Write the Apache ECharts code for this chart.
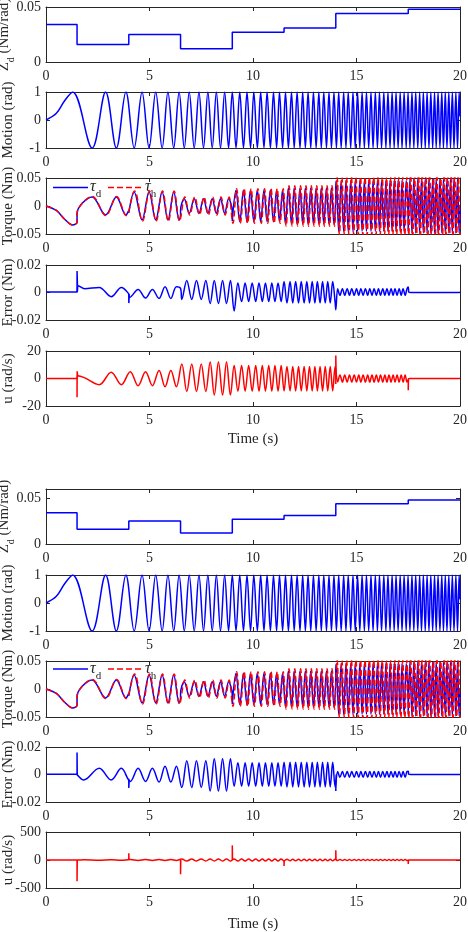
<!DOCTYPE html>
<html><head><meta charset="utf-8">
<script src="https://cdn.jsdelivr.net/npm/echarts@6/dist/echarts.min.js"></script>
<style>html,body{margin:0;padding:0;background:#fff}#c{width:468px;height:932px}</style>
</head><body><div id="c"></div><script>
// ---------- data ----------
const timeTicks = [0, 5, 10, 15, 20];
// quarter-period times of the chirp motion (odd: extrema, even: zero crossings)
const quarterT = [1.29,1.82,2.23,2.57,2.88,3.15,3.40,3.64,3.86,4.07,
 4.26,4.45,4.64,4.81,4.98,5.14,5.30,5.46,5.61,5.75,
 5.89,6.03,6.17,6.30,6.43,6.56,6.68,6.80,6.92,7.04,
 7.16,7.27,7.39,7.50,7.61,7.72,7.82,7.93,8.03,8.13,
 8.23,8.33,8.43,8.53,8.63,8.72,8.82,8.91,9.00,9.09,
 9.18,9.27,9.36,9.45,9.54,9.62,9.71,9.79,9.88,9.96,
 10.04,10.13,10.21,10.29,10.37,10.45,10.53,10.60,10.68,10.76,
 10.84,10.91,10.99,11.06,11.14,11.21,11.28,11.36,11.43,11.50,
 11.57,11.64,11.71,11.79,11.86,11.92,11.99,12.06,12.13,12.20,
 12.27,12.33,12.40,12.47,12.53,12.60,12.66,12.73,12.79,12.86,
 12.92,12.99,13.05,13.11,13.18,13.24,13.30,13.36,13.42,13.49,
 13.55,13.61,13.67,13.73,13.79,13.85,13.91,13.97,14.03,14.09,
 14.14,14.20,14.26,14.32,14.38,14.43,14.49,14.55,14.60,14.66,
 14.72,14.77,14.83,14.89,14.94,15.00,15.05,15.11,15.16,15.21,
 15.27,15.32,15.38,15.43,15.48,15.54,15.59,15.64,15.70,15.75,
 15.80,15.85,15.91,15.96,16.01,16.06,16.11,16.16,16.21,16.27,
 16.32,16.37,16.42,16.47,16.52,16.57,16.62,16.67,16.72,16.77,
 16.82,16.86,16.91,16.96,17.01,17.06,17.11,17.16,17.20,17.25,
 17.30,17.35,17.40,17.44,17.49,17.54,17.58,17.63,17.68,17.72,
 17.77,17.82,17.86,17.91,17.96,18.00,18.05,18.09,18.14,18.19,
 18.23,18.28,18.32,18.37,18.41,18.46,18.50,18.55,18.59,18.63,
 18.68,18.72,18.77,18.81,18.85,18.90,18.94,18.99,19.03,19.07,
 19.12,19.16,19.20,19.25,19.29,19.33,19.37,19.42,19.46,19.50,
 19.54,19.59,19.63,19.67,19.71,19.75,19.80,19.84,19.88,19.92,
 19.96];

// Zd stiffness steps
const zdStepT = [0, 1.5, 4, 6.5, 9, 11.5, 14, 17.5, 20];
const zdVal = [0.034, 0.016, 0.025, 0.012, 0.027, 0.031, 0.044, 0.048];

// motion
const motionKnots = [0, 20];
const motionPos = [1];
const motionNeg = [-1];
const motionAnchorT = [0, 0.5, 0.9, 20];
const motionAnchorV = [0, 0.24, 0.69, 0.13];

// torque (per Zd segment)
const tauDAmp = [0.034, 0.016, 0.025, 0.013, 0.028, 0.032, 0.045, 0.048];
const tauHAmp = [0.034, 0.017, 0.027, 0.016, 0.031, 0.036, 0.052, 0.058];
const tauHLag = [0, 0.01, 0.02, 0.025, 0.03, 0.03, 0.035, 0.035];
const tauDAnchorT = [0, 0.5, 0.9, 1.5, 1.5, 4, 4, 6.5, 6.5, 9, 9, 14, 14, 17.5, 17.5, 20];
const tauDAnchorV = [0, -0.008, -0.0236, -0.029, -0.0135, -0.0078, -0.0122, -0.0161, -0.0077, -0.012, -0.027, 0.0233, 0.033, -0.0415, -0.0453, -0.006];
const tauDSkip = [49, 185];
const tauHAnchorT = [0, 0.5, 0.9, 1.5, 1.5];
const tauHAnchorV = [0, -0.008, -0.0236, -0.029, -0.014];
const legendNames = ['τd', 'τh'];

// error, first figure
const err1Knots = [0, 1.5, 4, 5.25, 6.5, 7.75, 9, 11.5, 14, 17.5, 20];
const err1Pos = [0.0003, 0.0037, 0.0022, 0.0042, 0.0088, 0.0088, 0.0070, 0.0080, 0.0028, 0];
const err1Neg = [0.0003, -0.0030, -0.0040, -0.0043, -0.0050, -0.0080, -0.0066, -0.0076, -0.0020, 0];
const err1AnchorT = [0, 1.5, 1.55, 1.85, 4.0, 4.04, 6.5, 9.09, 14.0, 17.5, 17.52, 20];
const err1AnchorV = [0.0003, 0.0003, 0.0050, 0.0028, -0.0010, -0.0035, 0.0030, -0.0135, -0.0125, 0.0040, 0.0002, 0.0002];
const err1Skip = [2, 10, 50];
const err1Spikes = [[[1.5, 0.0003], [1.5, 0.0157], [1.52, 0.0055]], [[4.0, -0.001], [4.0, -0.0077], [4.02, -0.003]]];

// control input, first figure
const u1Knots = [0, 1.5, 4, 5.25, 6.5, 7.75, 9, 11.5, 14, 17.5, 20];
const u1Pos = [0, 4.6, 5.0, 5.8, 10.5, 12.0, 9.5, 8.8, 2.6, 0];
const u1Neg = [0, -4.5, -5.2, -6.0, -9.5, -12.0, -9.2, -9.0, -2.6, 0];
const u1AnchorT = [0, 1.5, 1.53, 1.85, 20];
const u1AnchorV = [0, 0, 2.0, 0.6, 0];
const u1Skip = [2];
const u1Spikes = [[[1.5, 0], [1.5, -13.6], [1.505, 5.3], [1.53, 2.0]], [[14.0, -4], [14.0, 16.7], [14.02, 0]], [[17.5, -1], [17.5, -8.5], [17.51, 0]]];

// error, second figure
const err2Knots = [0, 1.5, 4, 5.25, 6.5, 7.75, 9, 11.5, 14, 17.5, 20];
const err2Pos = [0.0002, 0.0045, 0.0045, 0.0060, 0.0100, 0.0115, 0.0085, 0.0090, 0.0022, 0];
const err2Neg = [0.0002, -0.0040, -0.0050, -0.0055, -0.0095, -0.0120, -0.0085, -0.0090, -0.0020, 0];
const err2AnchorT = [0, 1.5, 1.52, 17.5, 17.52, 20];
const err2AnchorV = [0.0002, 0.0002, -0.0005, 0.0024, 0.0001, 0];
const err2Spikes = [[[1.5, 0.0002], [1.5, 0.016], [1.51, -0.0005]], [[4.0, -0.003], [4.0, -0.0098], [4.02, -0.004]], [[14.0, -0.004], [14.0, -0.012], [14.02, 0]]];

// control input, second figure
const u2Knots = [0, 1.5, 4, 6.5, 9, 11.5, 14, 17.5, 20];
const u2Pos = [0, 4, 8, 18, 18, 15, 10, 0];
const u2Neg = [0, -4, -8, -18, -18, -15, -10, 0];
const u2AnchorT = [0, 1.5, 20];
const u2AnchorV = [0, 0, 0];
const u2SpikeT = [1.5, 4, 6.5, 9, 11.5, 14, 17.5];
const u2SpikeV = [-378, 122, -255, 261, -105, 174, -70];

// tick labels of the y axes
const zdTicks = [0, 0.05];
const motionTicks = [-1, 0, 1];
const torqueTicks = [-0.05, 0, 0.05];
const errorTicks = [-0.02, 0, 0.02];
const u1Ticks = [-20, 0, 20];
const u2Ticks = [-500, 0, 500];

// ---------- build ----------
function segIdx(knots, t) {
  for (let i = knots.length - 2; i >= 0; i--) if (t >= knots[i]) return i;
  return 0;
}
function wave(parity, posRes, knots, pos, neg, anchorT, anchorV, skip, lag) {
  const pts = [];
  quarterT.forEach((t0, k) => {
    const j = k + 1;
    if (j % 2 !== parity || (skip && skip.includes(j))) return;
    const s = segIdx(knots, t0);
    const t = t0 + (lag ? lag[s] : 0);
    if (t > 20) return;
    pts.push([t, j % 4 === posRes ? pos[s] : neg[s]]);
  });
  anchorT.forEach((t, i) => pts.push([t, anchorV[i]]));
  pts.sort((a, b) => a[0] - b[0]);
  return pts;
}

const FONT = '"Liberation Serif", "Times New Roman", serif';
const AX = '#262626';
const BLUE = '#0000ff', RED = '#ff0000';
const LW = 1.5;
const gridTops = [7, 92, 178, 265, 351, 489, 575, 661, 747, 832];
const gridH = [55, 56, 56, 55, 55, 55, 56, 56, 55, 56];

const panels = [
  {min: 0, max: 0.05, iv: 0.05, ticks: zdTicks, name: '{n|Z}{s|d}{n| (Nm/rad)}'},
  {min: -1, max: 1, iv: 1, ticks: motionTicks, name: 'Motion (rad)'},
  {min: -0.05, max: 0.05, iv: 0.05, ticks: torqueTicks, name: 'Torque (Nm)'},
  {min: -0.02, max: 0.02, iv: 0.02, ticks: errorTicks, name: 'Error (Nm)'},
  {min: -20, max: 20, iv: 20, ticks: u1Ticks, name: 'u (rad/s)'},
  {min: 0, max: 0.06, iv: 0.05, ticks: zdTicks, name: '{n|Z}{s|d}{n| (Nm/rad)}'},
  {min: -1, max: 1, iv: 1, ticks: motionTicks, name: 'Motion (rad)'},
  {min: -0.05, max: 0.05, iv: 0.05, ticks: torqueTicks, name: 'Torque (Nm)'},
  {min: -0.02, max: 0.02, iv: 0.02, ticks: errorTicks, name: 'Error (Nm)'},
  {min: -500, max: 500, iv: 500, ticks: u2Ticks, name: 'u (rad/s)'}
];

const grids = [], xAxes = [], yAxes = [], series = [];
const lineBase = {color: AX, width: 1};
panels.forEach((p, i) => {
  grids.push({left: 46, top: gridTops[i], width: 414, height: gridH[i], containLabel: false, outerBoundsMode: 'none'});
  const xb = {type: 'value', gridIndex: i, min: 0, max: 20, interval: 5, splitLine: {show: false},
    axisLine: {show: true, onZero: false, lineStyle: lineBase},
    axisTick: {show: true, inside: true, length: 4, lineStyle: lineBase}};
  const isBottom = (i === 4 || i === 9);
  xAxes.push(Object.assign({}, xb, {position: 'bottom',
    axisLabel: {show: true, margin: 7, color: AX, fontFamily: FONT, fontSize: 14,
      formatter: v => timeTicks.includes(v) ? String(v) : ''},
    name: isBottom ? 'Time (s)' : '', nameLocation: 'middle', nameGap: i === 4 ? 26 : 29, nameMoveOverlap: false,
    nameTextStyle: {color: AX, fontFamily: FONT, fontSize: 15}}));
  xAxes.push(Object.assign({}, xb, {position: 'top', axisLabel: {show: false}}));
  const yb = {type: 'value', gridIndex: i, min: p.min, max: p.max, interval: p.iv, splitLine: {show: false},
    axisLine: {show: true, onZero: false, lineStyle: lineBase},
    axisTick: {show: true, inside: true, length: 4, lineStyle: lineBase}};
  yAxes.push(Object.assign({}, yb, {position: 'left',
    axisLabel: {show: true, margin: 5, color: AX, fontFamily: FONT, fontSize: 14,
      formatter: v => { const tk = p.ticks.find(t => Math.abs(t - v) < 1e-9); return tk === undefined ? '' : String(tk); }},
    name: p.name, nameLocation: 'middle', nameGap: 30, nameRotate: 90, nameMoveOverlap: false,
    nameTextStyle: {color: AX, fontFamily: FONT, fontSize: 15,
      rich: {n: {fontFamily: FONT, fontSize: 15, color: AX, verticalAlign: 'bottom', padding: [0, 0, 4, 0]},
             s: {fontFamily: FONT, fontSize: 10, color: AX, verticalAlign: 'bottom'}}}}));
  yAxes.push(Object.assign({}, yb, {position: 'right', axisLabel: {show: false}}));
});

function addLine(gi, data, color, opts) {
  series.push(Object.assign({type: 'line', xAxisIndex: 2 * gi, yAxisIndex: 2 * gi, data: data,
    symbol: 'none', showSymbol: false, animation: false, silent: true,
    lineStyle: {color: color, width: LW}, itemStyle: {color: color}}, opts || {}));
}

const zdData = zdStepT.map((t, i) => [t, zdVal[Math.min(i, zdVal.length - 1)]]);
const motionData = wave(1, 1, motionKnots, motionPos, motionNeg, motionAnchorT, motionAnchorV, null, null);
const tauDData = wave(1, 3, zdStepT, tauDAmp, tauDAmp.map(a => -a), tauDAnchorT, tauDAnchorV, tauDSkip, null);
const tauHData = wave(1, 3, zdStepT, tauHAmp, tauHAmp.map(a => -a), tauHAnchorT, tauHAnchorV, null, tauHLag);
const err1Data = wave(0, 0, err1Knots, err1Pos, err1Neg, err1AnchorT, err1AnchorV, err1Skip, null);
const u1Data = wave(0, 2, u1Knots, u1Pos, u1Neg, u1AnchorT, u1AnchorV, u1Skip, null);
const err2Data = wave(0, 0, err2Knots, err2Pos, err2Neg, err2AnchorT, err2AnchorV, null, null);
const u2Data = wave(0, 2, u2Knots, u2Pos, u2Neg, u2AnchorT, u2AnchorV, null, null);

const SM = 0.36;
[0, 5].forEach((b, g) => {
  addLine(b + 0, zdData, BLUE, {step: 'end'});
  addLine(b + 1, motionData, BLUE, {smooth: SM});
  addLine(b + 2, tauDData, BLUE, {smooth: SM, name: legendNames[0]});
  addLine(b + 2, tauHData, RED, {smooth: SM, name: legendNames[1], lineStyle: {color: RED, width: LW, type: [6, 3]}});
  addLine(b + 3, g === 0 ? err1Data : err2Data, BLUE, {smooth: SM});
  addLine(b + 4, g === 0 ? u1Data : u2Data, RED, {smooth: SM});
  (g === 0 ? err1Spikes : err2Spikes).forEach(sp => addLine(b + 3, sp, BLUE));
  if (g === 0) u1Spikes.forEach(sp => addLine(b + 4, sp, RED));
  else u2SpikeT.forEach((t, k) => addLine(b + 4, [[t, 0], [t, u2SpikeV[k]], [t + 0.01, 0]], RED));
});

// legend drawn as graphic items (line samples + τ labels with subscripts)
const legRich = {t: {fontFamily: FONT, fontStyle: 'italic', fontSize: 16, fill: AX, verticalAlign: 'bottom', padding: [0, 0, 5, 0]},
                 s: {fontFamily: FONT, fontSize: 11, fill: AX, verticalAlign: 'bottom'}};
const graphics = [];
[187.5, 669].forEach(y => {
  graphics.push({type: 'line', silent: true, shape: {x1: 53, y1: y, x2: 88, y2: y}, style: {stroke: BLUE, lineWidth: LW}});
  graphics.push({type: 'text', silent: true, x: 90, y: y + 2, style: {text: '{t|τ}{s|d}', rich: legRich, verticalAlign: 'middle'}});
  graphics.push({type: 'line', silent: true, shape: {x1: 108, y1: y, x2: 143, y2: y}, style: {stroke: RED, lineWidth: LW, lineDash: [6, 3]}});
  graphics.push({type: 'text', silent: true, x: 145, y: y + 2, style: {text: '{t|τ}{s|h}', rich: legRich, verticalAlign: 'middle'}});
});

const chart = echarts.init(document.getElementById('c'), null, {renderer: 'canvas'});
chart.setOption({
  animation: false, backgroundColor: '#ffffff',
  textStyle: {fontFamily: FONT},
  grid: grids, xAxis: xAxes, yAxis: yAxes, series: series, graphic: graphics
});
</script></body></html>
